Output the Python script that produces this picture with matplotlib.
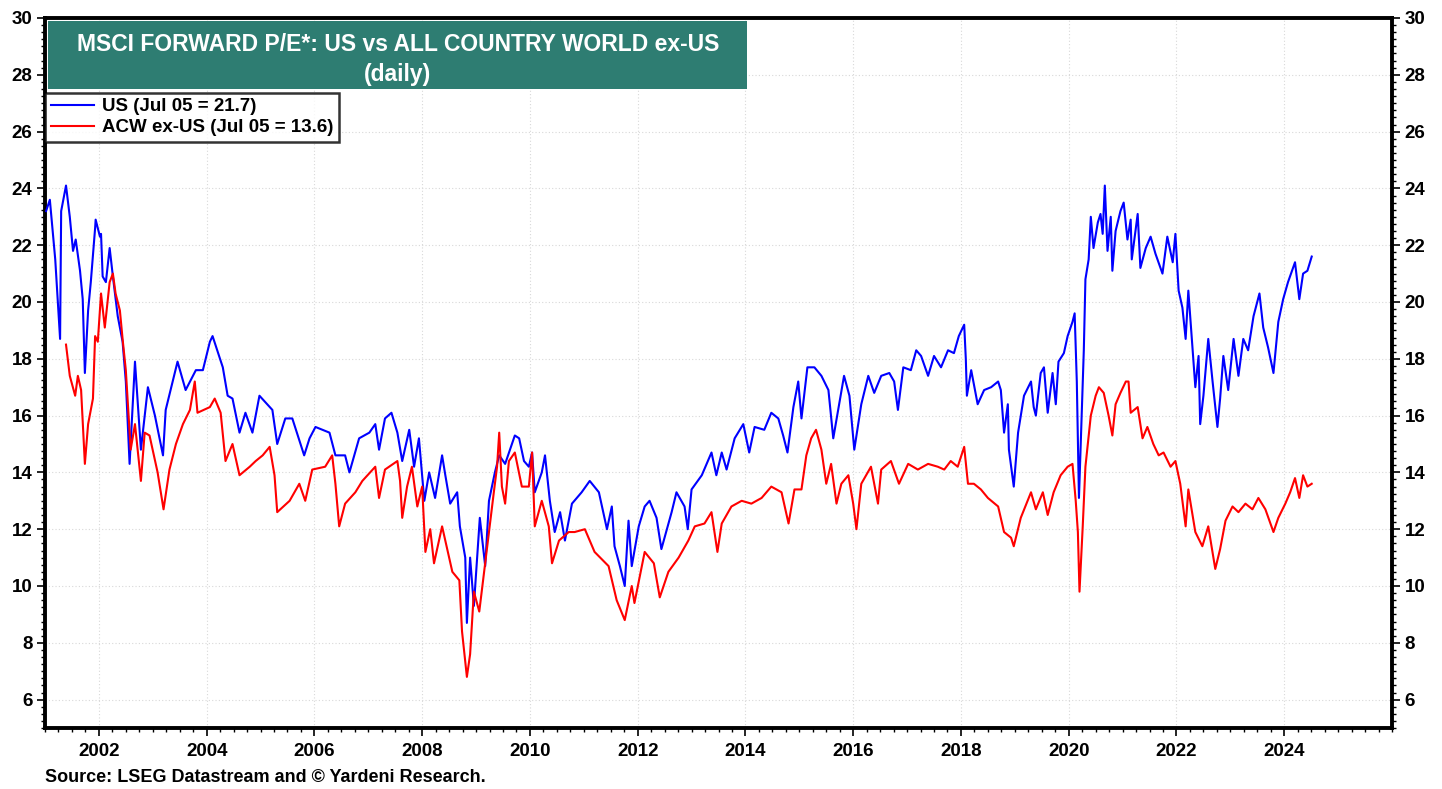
import numpy as np
import matplotlib
matplotlib.use("Agg")
import matplotlib.pyplot as plt
from matplotlib.patches import Rectangle
from matplotlib.ticker import MultipleLocator, FixedLocator

plt.rcParams['font.family'] = ['Liberation Sans', 'DejaVu Sans']
plt.rcParams['font.weight'] = 'bold'

# MSCI forward P/E, US (decimal year, value)
us_dates = [2001.02, 2001.09, 2001.19, 2001.28, 2001.30, 2001.39, 2001.46, 2001.52, 2001.57, 2001.65,
            2001.70, 2001.74, 2001.80, 2001.85, 2001.93, 2001.94, 2002.02, 2002.04, 2002.07, 2002.13,
            2002.20, 2002.26, 2002.35, 2002.44, 2002.50, 2002.57, 2002.67, 2002.72, 2002.78, 2002.91,
            2003.04, 2003.19, 2003.24, 2003.46, 2003.61, 2003.80, 2003.93, 2004.06, 2004.11, 2004.30,
            2004.39, 2004.48, 2004.61, 2004.72, 2004.85, 2004.98, 2005.22, 2005.31, 2005.46, 2005.59,
            2005.81, 2005.91, 2006.02, 2006.28, 2006.39, 2006.57, 2006.65, 2006.83, 2007.02, 2007.13,
            2007.20, 2007.31, 2007.43, 2007.54, 2007.63, 2007.76, 2007.85, 2007.94, 2008.04, 2008.13,
            2008.24, 2008.37, 2008.43, 2008.52, 2008.65, 2008.70, 2008.80, 2008.83, 2008.89, 2008.96,
            2009.07, 2009.17, 2009.24, 2009.35, 2009.43, 2009.54, 2009.63, 2009.72, 2009.80, 2009.89,
            2009.98, 2010.04, 2010.09, 2010.22, 2010.28, 2010.37, 2010.46, 2010.56, 2010.65, 2010.78,
            2010.96, 2011.11, 2011.28, 2011.43, 2011.52, 2011.57, 2011.67, 2011.76, 2011.83, 2011.89,
            2012.02, 2012.13, 2012.22, 2012.35, 2012.44, 2012.63, 2012.72, 2012.87, 2012.93, 2013.00,
            2013.19, 2013.37, 2013.46, 2013.56, 2013.65, 2013.80, 2013.96, 2014.07, 2014.17, 2014.35,
            2014.48, 2014.61, 2014.70, 2014.78, 2014.89, 2014.98, 2015.04, 2015.15, 2015.28, 2015.41,
            2015.54, 2015.63, 2015.72, 2015.83, 2015.93, 2016.02, 2016.15, 2016.28, 2016.39, 2016.52,
            2016.67, 2016.76, 2016.83, 2016.93, 2017.07, 2017.17, 2017.26, 2017.39, 2017.50, 2017.63,
            2017.76, 2017.87, 2017.96, 2018.06, 2018.09, 2018.11, 2018.19, 2018.31, 2018.43, 2018.56,
            2018.69, 2018.74, 2018.80, 2018.87, 2018.89, 2018.98, 2019.06, 2019.17, 2019.30, 2019.35,
            2019.39, 2019.48, 2019.54, 2019.61, 2019.70, 2019.76, 2019.81, 2019.91, 2019.98, 2020.07,
            2020.11, 2020.15, 2020.19, 2020.24, 2020.28, 2020.31, 2020.37, 2020.41, 2020.46, 2020.54,
            2020.59, 2020.63, 2020.67, 2020.72, 2020.78, 2020.81, 2020.87, 2020.96, 2021.02, 2021.09,
            2021.15, 2021.17, 2021.28, 2021.33, 2021.43, 2021.52, 2021.61, 2021.74, 2021.83, 2021.93,
            2021.98, 2022.04, 2022.11, 2022.17, 2022.22, 2022.30, 2022.35, 2022.41, 2022.44, 2022.50,
            2022.59, 2022.67, 2022.76, 2022.81, 2022.87, 2022.96, 2023.06, 2023.15, 2023.24, 2023.33,
            2023.43, 2023.54, 2023.61, 2023.70, 2023.80, 2023.89, 2023.98, 2024.07, 2024.20, 2024.28,
            2024.35, 2024.43, 2024.51]
us_pe = [23.2, 23.6, 21.5, 18.7, 23.2, 24.1, 23.0, 21.8, 22.2, 21.1,
         20.1, 17.5, 19.7, 20.7, 22.6, 22.9, 22.3, 22.4, 20.9, 20.7,
         21.9, 20.9, 19.5, 18.6, 17.2, 14.3, 17.9, 16.5, 14.8, 17.0,
         16.0, 14.6, 16.2, 17.9, 16.9, 17.6, 17.6, 18.6, 18.8, 17.7,
         16.7, 16.6, 15.4, 16.1, 15.4, 16.7, 16.2, 15.0, 15.9, 15.9,
         14.6, 15.2, 15.6, 15.4, 14.6, 14.6, 14.0, 15.2, 15.4, 15.7,
         14.8, 15.9, 16.1, 15.4, 14.4, 15.5, 14.2, 15.2, 13.0, 14.0,
         13.1, 14.6, 13.9, 12.9, 13.3, 12.1, 11.0, 8.7, 11.0, 9.3,
         12.4, 10.7, 13.0, 14.0, 14.6, 14.3, 14.8, 15.3, 15.2, 14.4,
         14.2, 14.7, 13.3, 14.0, 14.6, 13.0, 11.9, 12.6, 11.6, 12.9,
         13.3, 13.7, 13.3, 12.0, 12.8, 11.4, 10.7, 10.0, 12.3, 10.7,
         12.1, 12.8, 13.0, 12.4, 11.3, 12.6, 13.3, 12.8, 12.0, 13.4,
         13.9, 14.7, 13.9, 14.7, 14.1, 15.2, 15.7, 14.7, 15.6, 15.5,
         16.1, 15.9, 15.3, 14.7, 16.3, 17.2, 15.9, 17.7, 17.7, 17.4,
         16.9, 15.2, 16.2, 17.4, 16.7, 14.8, 16.4, 17.4, 16.8, 17.4,
         17.5, 17.2, 16.2, 17.7, 17.6, 18.3, 18.1, 17.4, 18.1, 17.7,
         18.3, 18.2, 18.8, 19.2, 18.0, 16.7, 17.6, 16.4, 16.9, 17.0,
         17.2, 16.9, 15.4, 16.4, 14.8, 13.5, 15.4, 16.7, 17.2, 16.3,
         16.0, 17.5, 17.7, 16.1, 17.5, 16.4, 17.9, 18.2, 18.8, 19.3,
         19.6, 17.2, 13.1, 16.0, 18.3, 20.8, 21.5, 23.0, 21.9, 22.8,
         23.1, 22.4, 24.1, 21.8, 23.0, 21.1, 22.5, 23.2, 23.5, 22.2,
         22.9, 21.5, 23.1, 21.2, 21.9, 22.3, 21.7, 21.0, 22.3, 21.4,
         22.4, 20.4, 19.8, 18.7, 20.4, 18.3, 17.0, 18.1, 15.7, 16.7,
         18.7, 17.2, 15.6, 16.6, 18.1, 16.9, 18.7, 17.4, 18.7, 18.3,
         19.5, 20.3, 19.1, 18.4, 17.5, 19.3, 20.1, 20.7, 21.4, 20.1,
         21.0, 21.1, 21.6]

# MSCI forward P/E, All Country World ex-US
acw_dates = [2001.39, 2001.46, 2001.56, 2001.61, 2001.67, 2001.74, 2001.80, 2001.89, 2001.93, 2001.98,
             2002.04, 2002.11, 2002.20, 2002.26, 2002.31, 2002.39, 2002.44, 2002.50, 2002.59, 2002.67,
             2002.78, 2002.85, 2002.94, 2003.09, 2003.20, 2003.31, 2003.43, 2003.56, 2003.69, 2003.78,
             2003.83, 2004.06, 2004.15, 2004.26, 2004.35, 2004.48, 2004.61, 2004.80, 2004.91, 2005.04,
             2005.17, 2005.26, 2005.31, 2005.54, 2005.72, 2005.83, 2005.96, 2006.20, 2006.33, 2006.39,
             2006.46, 2006.57, 2006.76, 2006.89, 2007.13, 2007.20, 2007.31, 2007.54, 2007.59, 2007.63,
             2007.72, 2007.81, 2007.91, 2008.00, 2008.06, 2008.15, 2008.22, 2008.37, 2008.50, 2008.56,
             2008.69, 2008.74, 2008.83, 2008.89, 2008.96, 2009.06, 2009.15, 2009.24, 2009.33, 2009.39,
             2009.43, 2009.48, 2009.54, 2009.61, 2009.72, 2009.85, 2009.98, 2010.04, 2010.09, 2010.22,
             2010.35, 2010.41, 2010.54, 2010.72, 2010.83, 2011.02, 2011.20, 2011.46, 2011.61, 2011.76,
             2011.89, 2011.94, 2012.13, 2012.30, 2012.41, 2012.57, 2012.76, 2012.94, 2013.06, 2013.24,
             2013.37, 2013.48, 2013.56, 2013.74, 2013.93, 2014.11, 2014.30, 2014.48, 2014.67, 2014.80,
             2014.91, 2015.04, 2015.13, 2015.22, 2015.31, 2015.41, 2015.50, 2015.59, 2015.69, 2015.78,
             2015.91, 2016.00, 2016.06, 2016.15, 2016.33, 2016.46, 2016.52, 2016.70, 2016.85, 2017.02,
             2017.20, 2017.39, 2017.57, 2017.69, 2017.81, 2017.94, 2018.06, 2018.13, 2018.24, 2018.37,
             2018.50, 2018.69, 2018.80, 2018.93, 2018.98, 2019.11, 2019.30, 2019.39, 2019.52, 2019.61,
             2019.72, 2019.85, 2019.98, 2020.07, 2020.13, 2020.17, 2020.20, 2020.26, 2020.31, 2020.41,
             2020.50, 2020.56, 2020.65, 2020.74, 2020.81, 2020.87, 2020.96, 2021.06, 2021.11, 2021.15,
             2021.28, 2021.37, 2021.46, 2021.57, 2021.67, 2021.76, 2021.89, 2021.98, 2022.07, 2022.17,
             2022.22, 2022.35, 2022.48, 2022.59, 2022.72, 2022.81, 2022.91, 2023.04, 2023.15, 2023.28,
             2023.41, 2023.52, 2023.65, 2023.80, 2023.89, 2024.02, 2024.11, 2024.20, 2024.28, 2024.35,
             2024.43, 2024.51]
acw_pe = [18.5, 17.4, 16.7, 17.4, 16.9, 14.3, 15.7, 16.6, 18.8, 18.6,
          20.3, 19.1, 20.7, 21.0, 20.3, 19.7, 18.7, 17.6, 14.8, 15.7,
          13.7, 15.4, 15.3, 14.0, 12.7, 14.1, 15.0, 15.7, 16.2, 17.2,
          16.1, 16.3, 16.6, 16.1, 14.4, 15.0, 13.9, 14.2, 14.4, 14.6,
          14.9, 13.9, 12.6, 13.0, 13.6, 13.0, 14.1, 14.2, 14.6, 13.6,
          12.1, 12.9, 13.3, 13.7, 14.2, 13.1, 14.1, 14.4, 13.7, 12.4,
          13.5, 14.2, 12.8, 13.5, 11.2, 12.0, 10.8, 12.1, 11.0, 10.5,
          10.2, 8.4, 6.8, 7.6, 9.8, 9.1, 10.5, 11.9, 13.3, 14.2,
          15.4, 13.5, 12.9, 14.4, 14.7, 13.5, 13.5, 14.7, 12.1, 13.0,
          12.1, 10.8, 11.6, 11.9, 11.9, 12.0, 11.2, 10.7, 9.5, 8.8,
          10.0, 9.4, 11.2, 10.8, 9.6, 10.5, 11.0, 11.6, 12.1, 12.2,
          12.6, 11.2, 12.2, 12.8, 13.0, 12.9, 13.1, 13.5, 13.3, 12.2,
          13.4, 13.4, 14.6, 15.2, 15.5, 14.8, 13.6, 14.3, 12.9, 13.6,
          13.9, 12.9, 12.0, 13.6, 14.2, 12.9, 14.1, 14.4, 13.6, 14.3,
          14.1, 14.3, 14.2, 14.1, 14.4, 14.2, 14.9, 13.6, 13.6, 13.4,
          13.1, 12.8, 11.9, 11.7, 11.4, 12.4, 13.3, 12.7, 13.3, 12.5,
          13.3, 13.9, 14.2, 14.3, 13.0, 11.9, 9.8, 12.1, 14.2, 16.0,
          16.7, 17.0, 16.8, 16.0, 15.3, 16.4, 16.8, 17.2, 17.2, 16.1,
          16.3, 15.2, 15.6, 15.0, 14.6, 14.7, 14.2, 14.4, 13.6, 12.1,
          13.4, 11.9, 11.4, 12.1, 10.6, 11.3, 12.3, 12.8, 12.6, 12.9,
          12.7, 13.1, 12.7, 11.9, 12.4, 12.9, 13.3, 13.8, 13.1, 13.9,
          13.5, 13.6]

year_ticks = list(range(2002, 2026, 2))
pe_ticks = list(range(6, 31, 2))

fig = plt.figure(figsize=(14.42, 7.89), dpi=100, facecolor='white')
ax = fig.add_axes([45 / 1442, 1 - 728 / 789, 1347 / 1442, 710 / 789])

ax.plot(us_dates, us_pe, color='#0000ff', lw=1.5, label='US (Jul 05 = 21.7)', zorder=3)
ax.plot(acw_dates, acw_pe, color='#ff0000', lw=1.5, label='ACW ex-US (Jul 05 = 13.6)', zorder=3)

ax.set_xlim(2001.0, 2026.0)
ax.set_ylim(5, 30)

ax.xaxis.set_major_locator(FixedLocator(year_ticks))
ax.xaxis.set_minor_locator(MultipleLocator(0.25))
ax.yaxis.set_major_locator(FixedLocator(pe_ticks))
ax.yaxis.set_minor_locator(MultipleLocator(0.25))
ax.set_xticklabels([str(y) for y in year_ticks])

ax.tick_params(axis='both', which='major', direction='out', length=6, width=1.2,
               labelsize=13.5, pad=5)
ax.tick_params(axis='both', which='minor', direction='out', length=3, width=1.0)
ax.tick_params(axis='y', which='both', left=True, right=True, labelleft=True, labelright=True, pad=3)
ax.tick_params(axis='x', which='both', top=False)

for lab in ax.get_xticklabels() + ax.get_yticklabels():
    lab.set_fontweight('bold')

ax.grid(True, which='major', color='#d8d8d8', linestyle=(0, (1, 2)), linewidth=0.8)
for s in ax.spines.values():
    s.set_linewidth(2.8)
    s.set_color('black')

# title box
ax.add_patch(Rectangle((0.002, 0.9), 0.519, 0.096, transform=ax.transAxes,
                       facecolor='#2e7d72', edgecolor='none', zorder=5))
ax.text(0.262, 0.941, 'MSCI FORWARD P/E*: US vs ALL COUNTRY WORLD ex-US\n(daily)',
        transform=ax.transAxes, ha='center', va='center', color='white',
        fontsize=16.5, fontweight='bold', linespacing=1.4, zorder=6)

leg = ax.legend(loc='upper left', bbox_to_anchor=(0.0, 0.895), borderaxespad=0.0,
                frameon=True, fancybox=False, edgecolor='black',
                handlelength=2.3, handletextpad=0.45, borderpad=0.3, labelspacing=0.2,
                prop={'weight': 'bold', 'size': 13.5})
leg.get_frame().set_linewidth(1.8)
leg.set_zorder(7)

fig.text(45 / 1442, 1 - 778 / 789, 'Source: LSEG Datastream and \u00a9 Yardeni Research.',
         ha='left', va='center', fontsize=13, fontweight='bold')

fig.savefig('out.png', dpi=100, facecolor='white')
